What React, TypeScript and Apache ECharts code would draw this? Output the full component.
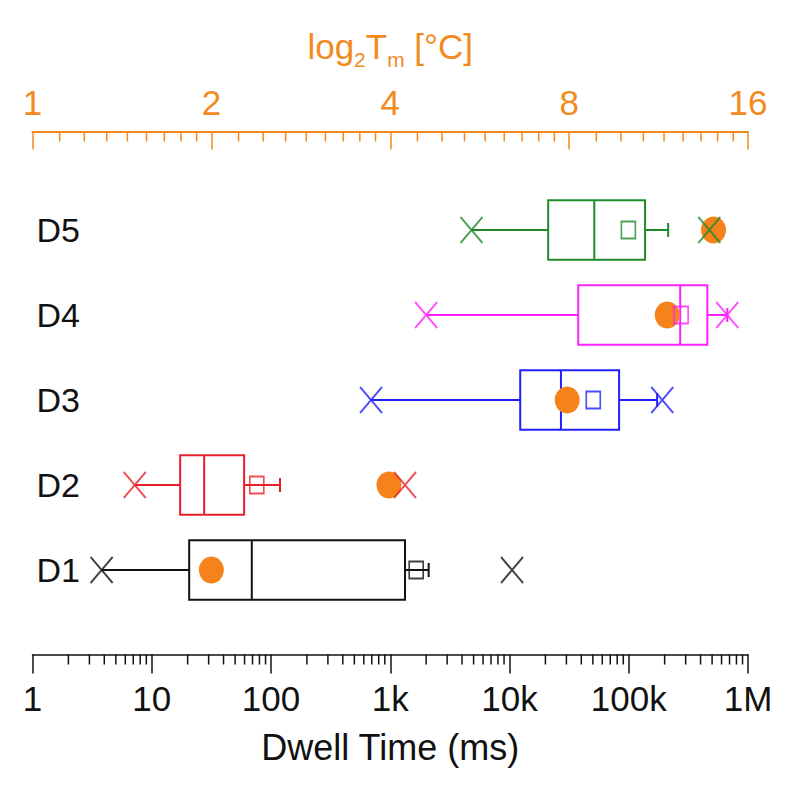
import { useEffect, useRef } from 'react';
import * as echarts from 'echarts';

// ---- data ----
const categories = ['D1', 'D2', 'D3', 'D4', 'D5'];
const whiskerLow = [3.8, 7.2, 690, 2000, 4800];
const q1 = [20.6, 17.3, 12300, 37700, 21100];
const median = [69, 27.5, 27000, 270000, 51400];
const q3 = [1330, 59.5, 83000, 456000, 137000];
const whiskerHigh = [2100, 119, 173000, 670000, 214000];
const meanValues = [1650, 76, 50400, 275000, 99300];
const minValues = [3.8, 7.2, 690, 2000, 4800];
const maxValues = [10500, 1330, 191000, 670000, 474000];
const meltingTemps = [2.0, 3.98, 7.94, 11.7, 14.0];

const dwellTickLabels = ['1', '10', '100', '1k', '10k', '100k', '1M'];
const tmTickLabels = ['1', '2', '4', '8', '16'];

// minor tick values (axis construction)
const dwellMinorTicks: number[] = [];
for (let d = 1; d < 1e6; d *= 10) for (let k = 2; k <= 9; k++) dwellMinorTicks.push(d * k);
const tmMinorTicks: number[] = [];
for (let m = 1; m < 16; m *= 2) for (let k = 1; k <= 8; k++) tmMinorTicks.push(m * (1 + k / 9));

// ---- styles ----
const colors = ['#111111', '#e8202a', '#1f1fff', '#ff22ff', '#1f8a2a'];
const ORANGE = '#f28a1e';
const CIRCLE = '#f5821b';
const FONT = '"Liberation Sans", Arial, sans-serif';
const BOTTOM_OFFSET = 42;
const TOP_OFFSET = 56;

function tickSeries(values: number[], xAxisIndex: number, side: 'top' | 'bottom', len: number, color: string) {
  return {
    type: 'custom',
    xAxisIndex,
    yAxisIndex: 0,
    silent: true,
    clip: false,
    z: 1,
    data: values.map((v) => [v, 0]),
    encode: { x: 0, y: 1 },
    renderItem: (params: any, api: any) => {
      const x = api.coord([api.value(0), 0])[0];
      const cs = params.coordSys;
      const y0 = side === 'bottom' ? cs.y + cs.height + BOTTOM_OFFSET : cs.y - TOP_OFFSET;
      return {
        type: 'line',
        shape: { x1: x, y1: y0, x2: x, y2: y0 + len },
        style: { stroke: color, lineWidth: 1.5 },
      };
    },
  };
}

export default function App() {
  const ref = useRef<HTMLDivElement>(null);
  useEffect(() => {
    if (!ref.current) return;
    const chart = echarts.init(ref.current, undefined, { renderer: 'svg' });
    const option: any = {
      animation: false,
      backgroundColor: '#ffffff',
      textStyle: { fontFamily: FONT },
      grid: {
        left: 32.5,
        right: 52,
        top: 187.5,
        bottom: 172.5,
        containLabel: false,
        outerBoundsMode: 'none',
      },
      xAxis: [
        {
          type: 'log',
          logBase: 10,
          min: 1,
          max: 1e6,
          position: 'bottom',
          offset: BOTTOM_OFFSET,
          axisLine: { show: true, onZero: false, lineStyle: { color: '#111', width: 1.5 } },
          axisTick: { show: true, length: 19, lineStyle: { color: '#111', width: 1.5 } },
          minorTick: { show: false },
          splitLine: { show: false },
          axisLabel: {
            fontSize: 35,
            color: '#111',
            margin: 26,
            fontFamily: FONT,
            formatter: (v: number) => dwellTickLabels[Math.round(Math.log10(v))] ?? '',
          },
          name: 'Dwell Time (ms)',
          nameLocation: 'middle',
          nameGap: 75,
          nameTextStyle: { fontSize: 36, color: '#111', fontFamily: FONT },
        },
        {
          type: 'log',
          logBase: 2,
          min: 1,
          max: 16,
          position: 'top',
          offset: TOP_OFFSET,
          axisLine: { show: true, onZero: false, lineStyle: { color: ORANGE, width: 2 } },
          axisTick: { show: true, inside: true, length: 18, lineStyle: { color: ORANGE, width: 1.5 } },
          minorTick: { show: false },
          splitLine: { show: false },
          axisLabel: {
            fontSize: 35,
            color: ORANGE,
            margin: 12,
            fontFamily: FONT,
            formatter: (v: number) => tmTickLabels[Math.round(Math.log2(v))] ?? '',
          },
          name: '{n|log}{s|2}{n|T}{s|m}{n| [°C]}',
          nameLocation: 'middle',
          nameGap: 62,
          nameTextStyle: {
            color: ORANGE,
            rich: {
              n: { fontSize: 35, color: ORANGE, fontFamily: FONT },
              s: { fontSize: 21, color: ORANGE, fontFamily: FONT, padding: [26, 0, 0, 0] },
            },
          },
        },
      ],
      yAxis: {
        type: 'category',
        data: categories,
        axisLine: { show: false },
        axisTick: { show: false },
        splitLine: { show: false },
        axisLabel: { inside: true, margin: 4, fontSize: 34, color: '#111', fontFamily: FONT },
      },
      series: [
        tickSeries(dwellMinorTicks, 0, 'bottom', 10, '#111'),
        tickSeries(tmMinorTicks, 1, 'top', 10, ORANGE),
        {
          type: 'custom',
          xAxisIndex: 0,
          yAxisIndex: 0,
          z: 2,
          data: categories.map((_, i) => [whiskerLow[i], q1[i], median[i], q3[i], whiskerHigh[i], i]),
          encode: { x: [0, 1, 2, 3, 4], y: 5 },
          renderItem: (params: any, api: any) => {
            const i = params.dataIndex;
            const cat = api.value(5);
            const cs = params.coordSys;
            const band = cs.height / categories.length;
            const h = band * 0.35;
            const pLow = api.coord([api.value(0), cat]);
            const pQ1 = api.coord([api.value(1), cat]);
            const pMed = api.coord([api.value(2), cat]);
            const pQ3 = api.coord([api.value(3), cat]);
            const pHigh = api.coord([api.value(4), cat]);
            const y = pQ1[1];
            const st = { stroke: colors[i], lineWidth: 2, fill: 'none' };
            return {
              type: 'group',
              children: [
                { type: 'line', shape: { x1: pLow[0], y1: y, x2: pQ1[0], y2: y }, style: st },
                { type: 'line', shape: { x1: pQ3[0], y1: y, x2: pHigh[0], y2: y }, style: st },
                { type: 'line', shape: { x1: pHigh[0], y1: y - 7, x2: pHigh[0], y2: y + 7 }, style: st },
                { type: 'rect', shape: { x: pQ1[0], y: y - h, width: pQ3[0] - pQ1[0], height: 2 * h }, style: st },
                { type: 'line', shape: { x1: pMed[0], y1: y - h, x2: pMed[0], y2: y + h }, style: st },
              ],
            };
          },
        },
        {
          type: 'scatter',
          xAxisIndex: 1,
          yAxisIndex: 0,
          z: 3,
          symbol: 'circle',
          symbolSize: [25, 27],
          itemStyle: { color: CIRCLE, opacity: 1 },
          data: meltingTemps.map((t, i) => [t, i]),
        },
        {
          type: 'scatter',
          xAxisIndex: 0,
          yAxisIndex: 0,
          z: 4,
          symbol: 'rect',
          symbolSize: [14, 17],
          data: meanValues.map((v, i) => ({
            value: [v, i],
            itemStyle: { color: 'rgba(255,255,255,0)', borderColor: colors[i], borderWidth: 1.8 },
          })),
        },
        {
          type: 'scatter',
          xAxisIndex: 0,
          yAxisIndex: 0,
          z: 5,
          symbol: 'path://M0,0L20,24M20,0L0,24',
          symbolSize: [22, 26],
          data: [
            ...minValues.map((v, i) => ({
              value: [v, i],
              itemStyle: { color: 'rgba(255,255,255,0)', borderColor: colors[i], borderWidth: 2 },
            })),
            ...maxValues.map((v, i) => ({
              value: [v, i],
              itemStyle: { color: 'rgba(255,255,255,0)', borderColor: colors[i], borderWidth: 2 },
            })),
          ],
        },
      ],
    };
    chart.setOption(option);
    return () => chart.dispose();
  }, []);
  return (
    <div
      ref={ref}
      style={{ position: 'fixed', left: 0, top: 0, width: 800, height: 785, background: '#fff' }}
    />
  );
}
